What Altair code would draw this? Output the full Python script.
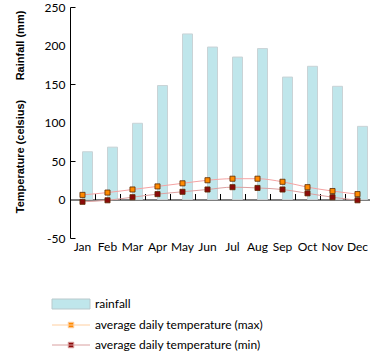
import altair as alt
import pandas as pd

months = ["Jan", "Feb", "Mar", "Apr", "May", "Jun", "Jul", "Aug", "Sep", "Oct", "Nov", "Dec"]
rainfall = [62, 68, 99, 148, 215, 198, 185, 196, 159, 173, 147, 95]
temp_max = [6, 9, 13, 17, 21, 25, 27, 27, 23, 16, 11, 7]
temp_min = [-3, -1, 3, 7, 10, 13, 16, 15, 13, 8, 3, -1]

S_RAIN = "rainfall"
S_MAX = "average daily temperature (max)"
S_MIN = "average daily temperature (min)"

rain_df = pd.DataFrame({"month": months, "value": rainfall, "series": S_RAIN})
temp_df = pd.concat([
    pd.DataFrame({"month": months, "value": temp_max, "series": S_MAX}),
    pd.DataFrame({"month": months, "value": temp_min, "series": S_MIN}),
])

FONT = "Lato"
TFONT = "Liberation Sans"
W, H = 300, 231
ZERO_OFF = H * 250 / 300

color_scale = alt.Scale(domain=[S_RAIN, S_MAX, S_MIN],
                        range=["#bfe6eb", "#ff8a00", "#8c0a0a"])
xscale = alt.Scale(domain=months, paddingInner=0, paddingOuter=0)
yscale = alt.Scale(domain=[-50, 250], nice=False, zero=False)

rect_path = "M-3.8,-1H3.8V1H-3.8Z"
line_path = "M-3.8,0H3.8M-0.55,-0.55H0.55V0.55H-0.55Z"

legend = alt.Legend(
    title=None, orient="none", legendX=-18, legendY=291, padding=0,
    symbolSize=100, symbolOffset=13, labelOffset=18, rowPadding=8,
    labelFont=FONT, labelFontSize=12, labelColor="#000", labelLimit=0,
    symbolStrokeWidth=1, symbolOpacity=1,
    symbolType=alt.ExprRef(expr=f"datum.value === '{S_RAIN}' ? '{rect_path}' : '{line_path}'"),
    symbolStrokeColor=alt.ExprRef(expr=f"datum.value === '{S_RAIN}' ? '#b9c9cc' : (datum.value === '{S_MAX}' ? '#ffcfa0' : '#d9a0a0')"),
)

bars = alt.Chart(rain_df).mark_bar(width=10, xOffset=5, stroke="#c9d3d6", strokeWidth=1).encode(
    x=alt.X("month:N", sort=months, scale=xscale,
            axis=alt.Axis(orient="bottom", title=None, domain=False, ticks=False,
                          labelAngle=0, labelFont=FONT, labelFontSize=12, labelColor="#000",
                          labelPadding=3)),
    y=alt.Y("value:Q", scale=yscale,
            axis=alt.Axis(orient="left", title="Rainfall (mm)", values=[-50, 0, 50, 100, 150, 200, 250],
                          labelExpr="'' + datum.value",
                          domain=False, ticks=False, grid=False,
                          labelFont=FONT, labelFontSize=12, labelColor="#000", labelPadding=5,
                          titleFont=TFONT, titleFontSize=11, titleFontWeight="bold", titleColor="#000",
                          titleX=-50, titleY=38, titleAngle=270, titleAlign="center",
                          titleBaseline="middle")),
    y2=alt.datum(0),
    color=alt.Color("series:N", scale=color_scale, legend=legend),
)

lines = alt.Chart(temp_df).mark_line(interpolate="monotone", strokeWidth=1).encode(
    x=alt.X("month:N", sort=months, scale=xscale,
            axis=alt.Axis(orient="top", title=None, labels=False, domain=True, domainColor="#000",
                          ticks=True, tickBand="extent", tickSize=6, tickColor="#000",
                          offset=-ZERO_OFF)),
    y=alt.Y("value:Q", scale=yscale,
            axis=alt.Axis(orient="right", title="Temperature (celsius)", labels=False,
                          values=[-50, 0, 50, 100, 150, 200, 250],
                          domain=True, domainColor="#000", ticks=True, tickSize=5, tickColor="#000",
                          grid=False, offset=-W,
                          titleFont=TFONT, titleFontSize=11, titleFontWeight="bold", titleColor="#000",
                          titleX=-50, titleY=149, titleAngle=270, titleAlign="center",
                          titleBaseline="middle")),
    detail="series:N",
    stroke=alt.Stroke("series:N", scale=alt.Scale(domain=[S_MAX, S_MIN], range=["#f5a3a3", "#dca0a0"]),
                      legend=None),
)

points = alt.Chart(temp_df).mark_point(shape="square", filled=True, size=26, opacity=1,
                                        strokeWidth=0.8).encode(
    x=alt.X("month:N", sort=months, scale=xscale),
    y=alt.Y("value:Q", scale=yscale),
    color=alt.Color("series:N", scale=color_scale, legend=legend),
    stroke=alt.value("#5a2a00"),
)

chart = alt.layer(bars, alt.layer(lines, points)).resolve_axis(x="independent", y="independent").resolve_scale(stroke="independent").properties(
    width=W, height=H,
    autosize=alt.AutoSizeParams(type="none"),
    padding={"left": 70, "top": 7, "right": 0, "bottom": 116},
).configure_view(stroke=None).configure_axis(grid=False)

chart.save("out.html", embed_options={"renderer": "svg", "actions": False})
